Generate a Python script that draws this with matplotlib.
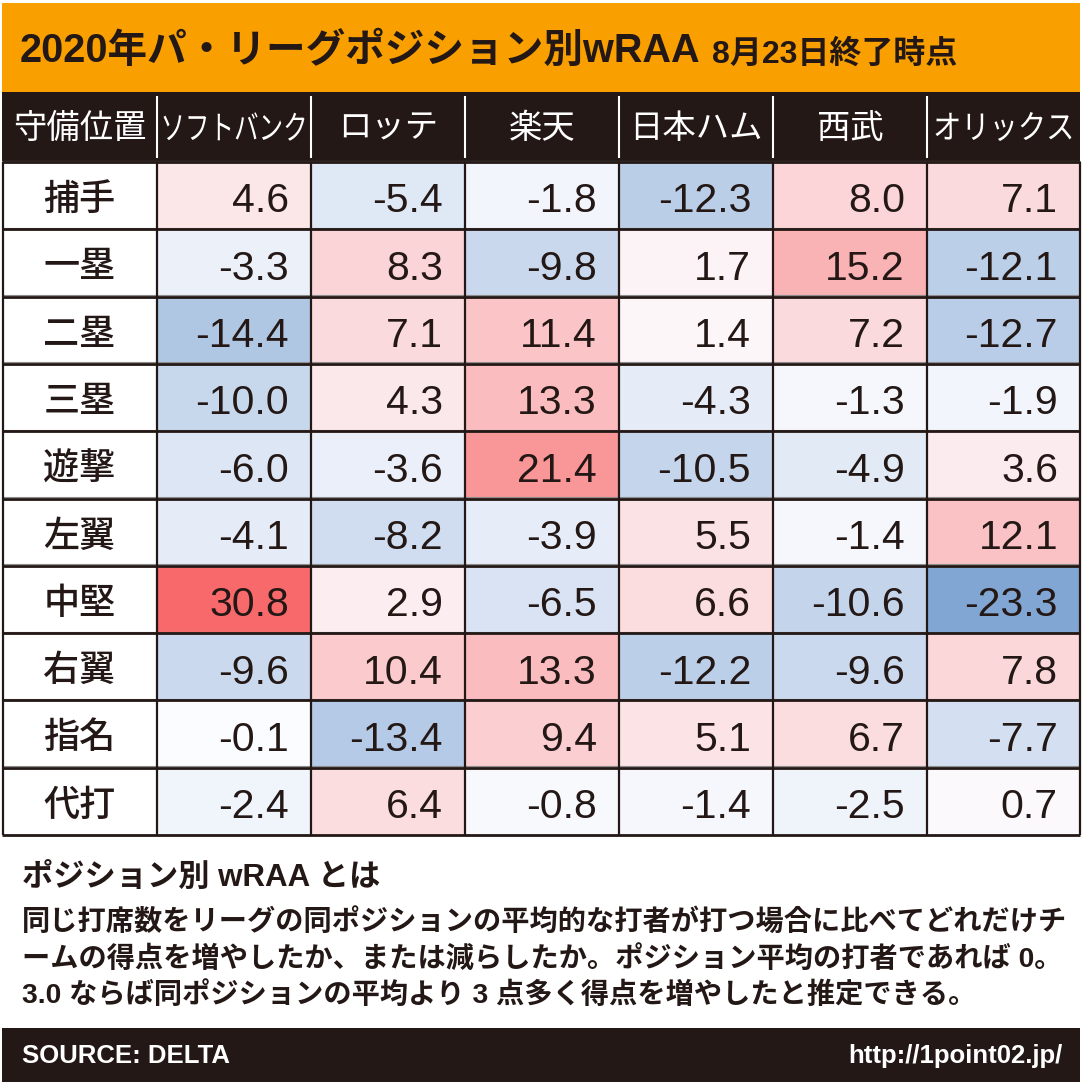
import numpy as np
import matplotlib
matplotlib.use("Agg")
import matplotlib.pyplot as plt
from matplotlib.colors import LinearSegmentedColormap, Normalize
from matplotlib.textpath import TextPath
from matplotlib.patches import PathPatch, Rectangle
from matplotlib.font_manager import FontProperties
from matplotlib.transforms import Affine2D

# data
teams = ["ソフトバンク", "ロッテ", "楽天", "日本ハム", "西武", "オリックス"]
positions = ["捕手", "一塁", "二塁", "三塁", "遊撃", "左翼", "中堅", "右翼", "指名", "代打"]
softbank = [4.6, -3.3, -14.4, -10.0, -6.0, -4.1, 30.8, -9.6, -0.1, -2.4]
lotte = [-5.4, 8.3, 7.1, 4.3, -3.6, -8.2, 2.9, 10.4, -13.4, 6.4]
rakuten = [-1.8, -9.8, 11.4, 13.3, 21.4, -3.9, -6.5, 13.3, 9.4, -0.8]
nipponham = [-12.3, 1.7, 1.4, -4.3, -10.5, 5.5, 6.6, -12.2, 5.1, -1.4]
seibu = [8.0, 15.2, 7.2, -1.3, -4.9, -1.4, -10.6, -9.6, 6.7, -2.5]
orix = [7.1, -12.1, -12.7, -1.9, 3.6, 12.1, -23.3, 7.8, -7.7, 0.7]

title = "2020年パ・リーグポジション別wRAA"
subtitle = "8月23日終了時点"
corner = "守備位置"
note_head = "ポジション別 wRAA とは"
note_lines = [
    "同じ打席数をリーグの同ポジションの平均的な打者が打つ場合に比べてどれだけチ",
    "ームの得点を増やしたか、または減らしたか。ポジション平均の打者であれば 0。",
    "3.0 ならば同ポジションの平均より 3 点多く得点を増やしたと推定できる。",
]
source = "SOURCE: DELTA"
url = "http://1point02.jp/"

values = np.array([softbank, lotte, rakuten, nipponham, seibu, orix]).T

INK = "#231815"
ORANGE = "#F9A000"
JP = "Noto Sans CJK JP"
MIX = ["Liberation Sans", "Noto Sans CJK JP"]

W = 1082
fig = plt.figure(figsize=(W / 100, W / 100), dpi=100)
ax = fig.add_axes([0, 0, 1, 1])
ax.set_xlim(0, W)
ax.set_ylim(W, 0)
ax.axis("off")

# layout in pixels
left, right = 2, 1080
col_w = 154
label_w = 155
head_top, head_bot = 92, 161
tab_top, tab_bot = 162, 835
n_rows = len(positions)
row_h = (tab_bot - tab_top) / n_rows
xedges = left + label_w + col_w * np.arange(len(teams) + 1)
xedges[-1] = right
yedges = tab_top + row_h * np.arange(n_rows + 1)

# title bar
ax.add_patch(Rectangle((2, 3), 1078, head_top - 3, fc=ORANGE, ec="none"))
ax.text(20, 62, title, fontsize=28.5, family=MIX, weight="bold", color=INK, va="baseline")
ax.text(712, 63, subtitle, fontsize=23, family=MIX, weight="bold", color=INK, va="baseline")

# header
ax.add_patch(Rectangle((left, head_top), right - left, head_bot - head_top, fc=INK, ec="none"))
ax.vlines(xedges[:-1], head_top + 4, head_bot - 3, color="white", lw=1.5)


def squeezed(s, cx, cy, size, width, color):
    tp = TextPath((0, 0), s, size=size, prop=FontProperties(family=JP))
    bb = tp.get_extents()
    tr = (Affine2D().translate(-(bb.x0 + bb.width / 2), -(bb.y0 + bb.height / 2))
          .scale(width / bb.width, -1).translate(cx, cy))
    ax.add_patch(PathPatch(tr.transform_path(tp), fc=color, ec="none"))


ax.text(left + label_w / 2, 138, corner, fontsize=24, family=JP, color="white",
        ha="center", va="baseline")
squeeze_w = {"ソフトバンク": 141, "オリックス": 136}
for i, t in enumerate(teams):
    cx = (xedges[i] + xedges[i + 1]) / 2
    if t in squeeze_w:
        squeezed(t, cx, 126.5, 33, squeeze_w[t], "white")
    else:
        ax.text(cx, 138, t, fontsize=24, family=JP, color="white", ha="center", va="baseline")

# cells
vmax = np.abs(values).max()
cmap = LinearSegmentedColormap.from_list("rwb", ["#5A8AC6", "#FCFCFF", "#F8696B"])
ax.pcolormesh(xedges, yedges, values, cmap=cmap, norm=Normalize(-vmax, vmax), zorder=1)
ax.add_patch(Rectangle((left, tab_top), label_w, tab_bot - tab_top, fc="white", ec="none", zorder=1))

for r, pos in enumerate(positions):
    top = yedges[r]
    ax.text(left + label_w / 2, top + 48, pos, fontsize=26, family=JP, weight="medium",
            color=INK, ha="center", va="baseline", zorder=3)
    for c in range(len(teams)):
        ax.text(xedges[c + 1] - 22, top + 50.5, f"{values[r, c]:.1f}", fontsize=29.5,
                family="Liberation Sans", color=INK, ha="right", va="baseline", zorder=3)

# grid lines
ax.hlines(yedges[:-1] - 1.5, left, right, color="#8c8c8c", lw=0.8, zorder=2)
ax.hlines(yedges, left, right, color=INK, lw=2.0, zorder=2)
ax.vlines(np.r_[left + 1, xedges[:-1], right - 0.5], tab_top, tab_bot, color=INK, lw=1.6, zorder=2)

# note
ax.text(22, 886, note_head, fontsize=22.5, family=MIX, weight="bold", color=INK, va="baseline")
for k, line in enumerate(note_lines):
    ax.text(22, 931 + 36 * k, line, fontsize=20.3, family=MIX, weight="bold", color=INK,
            va="baseline")

# footer
ax.add_patch(Rectangle((2, 1028), 1078, W - 1028, fc=INK, ec="none"))
ax.text(22, 1063, source, fontsize=18.5, family="Liberation Sans", weight="bold",
        color="white", va="baseline")
ax.text(1062, 1063, url, fontsize=18.5, family="Liberation Sans", weight="bold",
        color="white", ha="right", va="baseline")

fig.savefig("out.png", dpi=100, facecolor="white")
